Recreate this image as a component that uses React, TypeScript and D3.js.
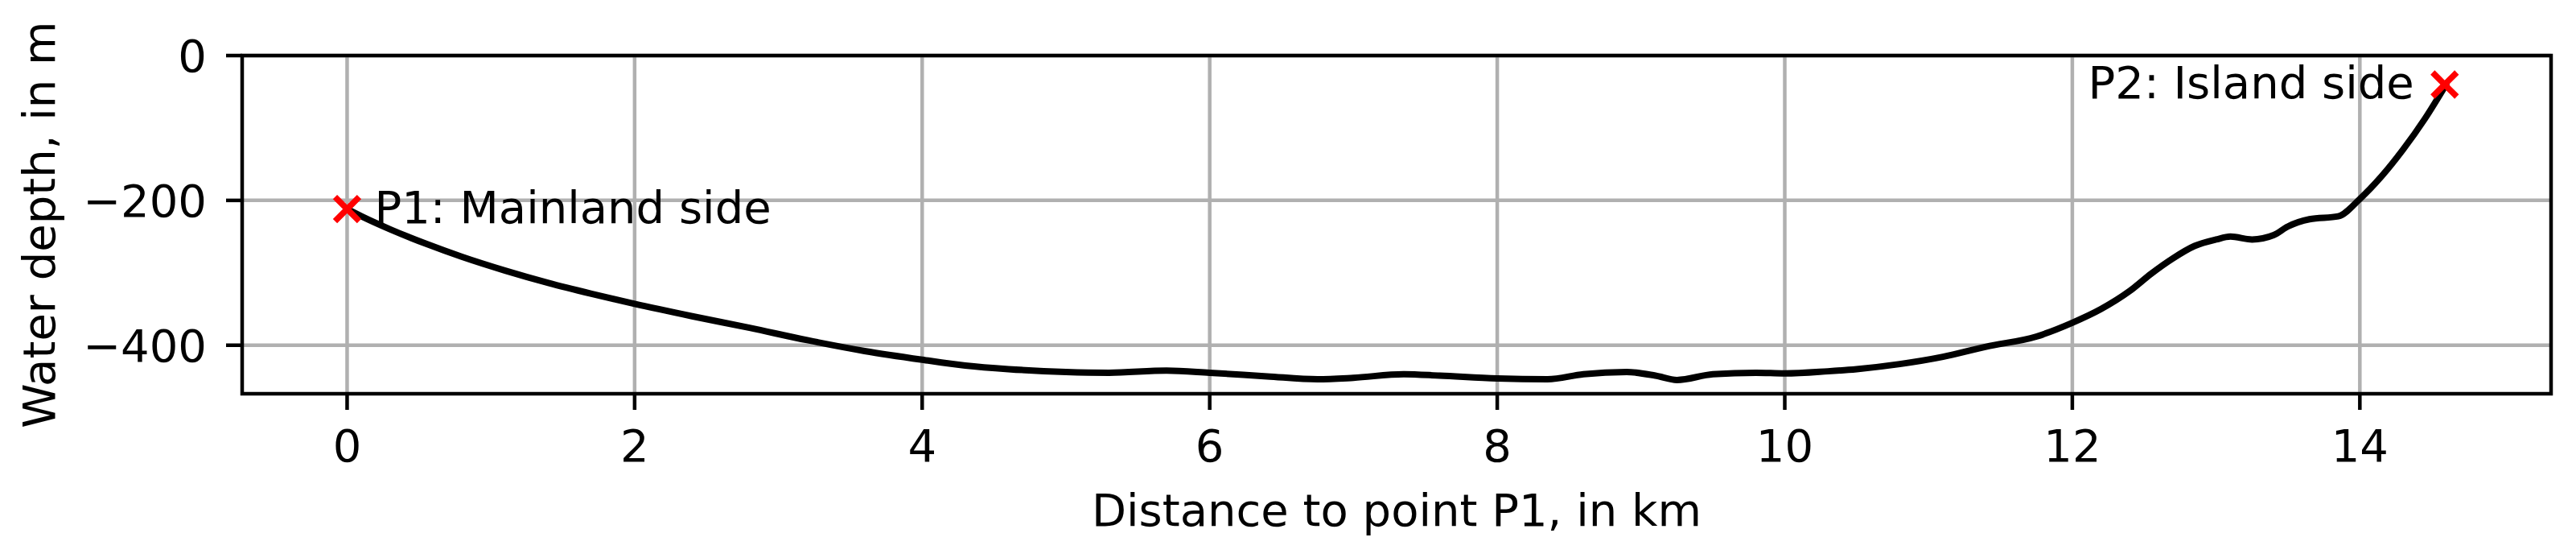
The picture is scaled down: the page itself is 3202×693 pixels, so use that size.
import React from "react";
import * as d3 from "d3";

const distanceKm = [0, 0.1, 0.3, 0.55, 0.8, 1.1, 1.4, 1.7, 2.0, 2.4, 2.8, 3.2, 3.6, 4.0, 4.3, 4.6, 5.0, 5.3, 5.7, 6.0, 6.4, 6.75, 7.0, 7.35, 7.6, 8.0, 8.35, 8.6, 8.9, 9.1, 9.25, 9.5, 9.8, 10.0, 10.3, 10.5, 10.8, 11.1, 11.4, 11.75, 12.0, 12.2, 12.4, 12.55, 12.7, 12.85, 13.0, 13.1, 13.25, 13.4, 13.5, 13.65, 13.85, 14.0, 14.15, 14.3, 14.45, 14.6];
const depthM = [-212, -222, -240, -260, -278, -297, -314, -329, -343, -360, -376, -393, -408, -420, -428, -433, -437, -438, -435, -438, -443, -447, -445, -440, -442, -446, -447, -440, -437, -442, -448, -440, -438, -439, -436, -433, -426, -416, -402, -388, -369, -350, -325, -301, -280, -263, -254, -250, -254, -248, -236, -226, -222, -198, -167, -130, -88, -40];

const pointNames = ["P1: Mainland side", "P2: Island side"];
const pointX = [0, 14.59];
const pointY = [-212, -40];

const xTicks = [0, 2, 4, 6, 8, 10, 12, 14];
const yTicks = [0, -200, -400];
const xLabel = "Distance to point P1, in km";
const yLabel = "Water depth, in m";

const W = 3202;
const H = 693;
const left = 301;
const right = 3171;
const top = 69;
const bottom = 489;
const FS = 56;
const FONT = "DejaVu Sans";

export default function App() {
  const x = d3.scaleLinear().domain([-0.73, 15.33]).range([left, right]);
  const y = d3.scaleLinear().domain([-467, 0]).range([bottom, top]);
  const data = distanceKm.map((d, i) => [d, depthM[i]] as [number, number]);
  const line = d3
    .line<[number, number]>()
    .x((d) => x(d[0]))
    .y((d) => y(d[1]))
    .curve(d3.curveMonotoneX);
  const fmt = (v: number) => (v < 0 ? "\u2212" + Math.abs(v) : String(v));
  const ms = 15;

  return (
    <svg
      width={W}
      height={H}
      style={{ position: "absolute", left: 0, top: 0, background: "#fff" }}
      fontFamily={FONT}
    >
      <rect x={0} y={0} width={W} height={H} fill="#fff" />
      {/* grid */}
      {xTicks.map((t) => (
        <line key={"gx" + t} x1={x(t)} x2={x(t)} y1={top} y2={bottom} stroke="#b0b0b0" strokeWidth={4.5} />
      ))}
      {yTicks.map((t) => (
        <line key={"gy" + t} x1={left} x2={right} y1={y(t)} y2={y(t)} stroke="#b0b0b0" strokeWidth={4.5} />
      ))}
      {/* profile line */}
      <path d={line(data) || ""} fill="none" stroke="#000" strokeWidth={8} strokeLinejoin="round" strokeLinecap="round" />
      {/* markers */}
      {pointX.map((px, i) => (
        <g key={"m" + i} transform={`translate(${x(px)},${y(pointY[i])})`}>
          <line x1={-ms} y1={-ms} x2={ms} y2={ms} stroke="#ff0000" strokeWidth={7.5} />
          <line x1={-ms} y1={ms} x2={ms} y2={-ms} stroke="#ff0000" strokeWidth={7.5} />
        </g>
      ))}
      {/* annotations */}
      <text x={x(pointX[0]) + 34} y={y(pointY[0]) + 17} fontSize={FS} fill="#000">
        {pointNames[0]}
      </text>
      <text x={x(pointX[1]) - 38} y={y(pointY[1]) + 17} fontSize={FS} fill="#000" textAnchor="end">
        {pointNames[1]}
      </text>
      {/* spines */}
      <rect x={left} y={top} width={right - left} height={bottom - top} fill="none" stroke="#000" strokeWidth={4.5} />
      {/* x ticks */}
      {xTicks.map((t) => (
        <g key={"xt" + t}>
          <line x1={x(t)} x2={x(t)} y1={bottom} y2={bottom + 20} stroke="#000" strokeWidth={4.5} />
          <text x={x(t)} y={bottom + 84} fontSize={FS} textAnchor="middle" fill="#000">
            {fmt(t)}
          </text>
        </g>
      ))}
      {/* y ticks */}
      {yTicks.map((t) => (
        <g key={"yt" + t}>
          <line x1={left - 20} x2={left} y1={y(t)} y2={y(t)} stroke="#000" strokeWidth={4.5} />
          <text x={left - 44} y={y(t) + 20} fontSize={FS} textAnchor="end" fill="#000">
            {fmt(t)}
          </text>
        </g>
      ))}
      {/* axis labels */}
      <text x={(left + right) / 2} y={653} fontSize={FS} textAnchor="middle" fill="#000">
        {xLabel}
      </text>
      <text
        transform={`translate(68,${(top + bottom) / 2}) rotate(-90)`}
        fontSize={FS}
        textAnchor="middle"
        fill="#000"
      >
        {yLabel}
      </text>
    </svg>
  );
}
